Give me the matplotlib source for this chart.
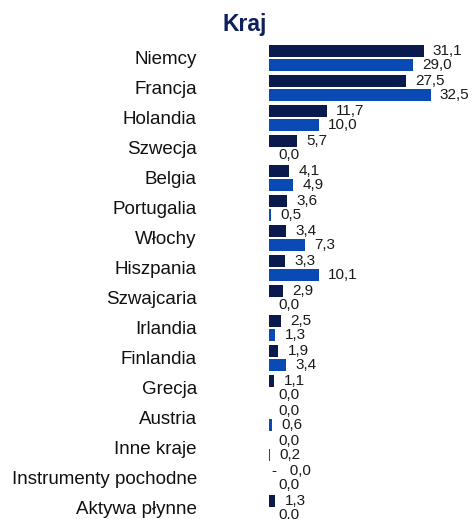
import numpy as np
import matplotlib
matplotlib.use("Agg")
import matplotlib.pyplot as plt

plt.rcParams['font.family'] = ['Liberation Sans', 'DejaVu Sans']

# data
categories = ["Niemcy", "Francja", "Holandia", "Szwecja", "Belgia", "Portugalia",
              "Włochy", "Hiszpania", "Szwajcaria", "Irlandia", "Finlandia", "Grecja",
              "Austria", "Inne kraje", "Instrumenty pochodne", "Aktywa płynne"]
dark_vals = [31.1, 27.5, 11.7, 5.7, 4.1, 3.6, 3.4, 3.3, 2.9, 2.5, 1.9, 1.1, 0.0, 0.0, -0.0, 1.3]
blue_vals = [29.0, 32.5, 10.0, 0.0, 4.9, 0.5, 7.3, 10.1, 0.0, 1.3, 3.4, 0.0, 0.6, 0.2, 0.0, 0.0]
dark_labels = ["31,1", "27,5", "11,7", "5,7", "4,1", "3,6", "3,4", "3,3", "2,9", "2,5",
               "1,9", "1,1", "0,0", "0,0", "-   0,0", "1,3"]
blue_labels = ["29,0", "32,5", "10,0", "0,0", "4,9", "0,5", "7,3", "10,1", "0,0", "1,3",
               "3,4", "0,0", "0,6", "0,2", "0,0", "0,0"]

dark_color = "#0a1a4e"
blue_color = "#0a4ab4"

W, H = 472, 519
fig = plt.figure(figsize=(W / 100, H / 100), dpi=100)

# axes: x=0 at 269px, ~4.98 px per unit; rows 30px apart, first at y=58px
x0_px, px_per_unit = 269, 4.98
top_px = 43
ax = fig.add_axes([x0_px / W, 0, 1 - x0_px / W, (H - top_px) / H])
ax.set_xlim(0, (W - x0_px) / px_per_unit)
ax.set_ylim(15 + (H - 508) / 30, -0.5)

y = np.arange(len(categories))
off = 0.233
bh = 0.4
ax.barh(y - off, dark_vals, height=bh, color=dark_color)
ax.barh(y + off, blue_vals, height=bh, color=blue_color)

for i in range(len(categories)):
    # negative zero label starts with a dash right next to the axis
    neg = dark_labels[i].startswith('-')
    ax.annotate(dark_labels[i], (max(dark_vals[i], 0), y[i] - off),
                xytext=(2.0 if neg else 6.5, 0),
                textcoords="offset points", ha="left", va="center", fontsize=11, color="#1a1a1a")
    ax.annotate(blue_labels[i], (blue_vals[i], y[i] + off),
                xytext=(6.5, 0), textcoords="offset points", ha="left", va="center",
                fontsize=11, color="#1a1a1a")

ax.set_yticks(y)
ax.set_yticklabels(categories, fontsize=13.5, color="#111111")
ax.tick_params(axis="y", length=0, pad=52)
ax.set_xticks([])
for s in ax.spines.values():
    s.set_visible(False)

fig.text(245 / W, 1 - 24 / H, "Kraj", ha="center", va="center", fontsize=16.5,
         fontweight="bold", color="#0d1f5c")

fig.savefig("out.png", dpi=100)
